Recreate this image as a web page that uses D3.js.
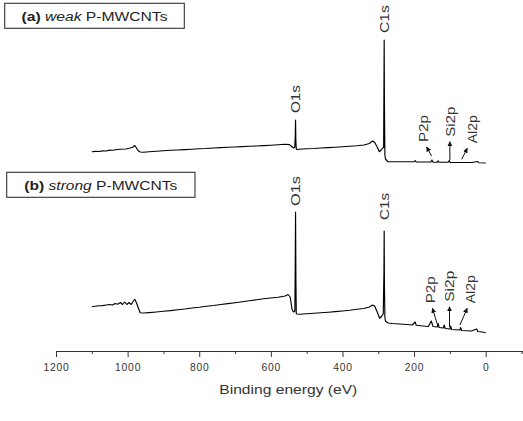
<!DOCTYPE html>
<html>
<head>
<meta charset="utf-8">
<script src="https://cdn.jsdelivr.net/npm/d3@7"></script>
<style>
	body { margin: 0; background: #fff; }
	svg { display: block; font-family: "Liberation Sans", Arial, sans-serif; }
</style>
</head>
<body>
<div id="chart"></div>
<script>
'use strict';

// weak P-MWCNTs survey (binding energy eV / intensity a.u.)
const weakEnergy = [1100, 1090, 1080, 1070, 1060, 1050, 1040, 1030, 1020, 1005, 995, 985, 980, 976, 971, 965, 955, 940, 920, 900, 880, 860, 840, 820, 800, 780, 760, 740, 720, 700, 680, 660, 640, 620, 600, 580, 560, 548, 542, 536, 533, 531.8, 531, 530.2, 529, 527, 520, 500, 480, 460, 440, 420, 400, 380, 360, 340, 325, 316, 310, 303, 297, 292, 288, 285, 284.2, 283.5, 282.8, 281.5, 280, 273, 250, 220, 200, 197, 194, 175, 153, 150, 147, 135, 133, 130, 105, 102, 99, 60, 40, 22, 19, 0];
const weakCounts = [10.6, 10.9, 10.8, 11.3, 11.2, 11.9, 11.8, 12.4, 12.6, 12.8, 13.4, 14.4, 15.6, 14.0, 11.6, 10.4, 10.2, 10.6, 11.0, 11.4, 11.8, 12.0, 12.3, 12.6, 13.0, 13.2, 13.6, 13.9, 14.2, 14.4, 14.7, 15.0, 15.2, 15.5, 15.8, 16.2, 16.6, 16.3, 14.8, 13.6, 14.4, 24, 36, 20, 13, 12.4, 12.6, 13.0, 13.2, 13.6, 13.9, 14.2, 14.6, 15.0, 15.4, 16.0, 17.2, 19.2, 18.0, 14.4, 10.6, 12.0, 13.6, 14, 60, 100, 50, 8, 4.8, 2.6, 2.6, 2.6, 2.6, 3.6, 2.4, 2.4, 2.4, 4.0, 2.2, 2.2, 3.4, 2.2, 2.2, 3.6, 2.0, 2.0, 2.0, 2.8, 1.8, 1.6];

// strong P-MWCNTs survey
const strongEnergy = [1100, 1090, 1080, 1070, 1060, 1050, 1042, 1035, 1028, 1020, 1014, 1008, 1002, 996, 990, 984, 980, 975, 970, 965, 955, 940, 920, 900, 880, 860, 840, 820, 800, 780, 760, 740, 720, 700, 680, 660, 640, 620, 600, 580, 560, 552, 546, 541, 537, 533, 532, 531, 530, 529, 527, 520, 500, 480, 460, 440, 420, 400, 380, 360, 340, 325, 316, 310, 303, 296, 290, 286, 284.2, 283.5, 282.8, 281.5, 280, 273, 260, 240, 220, 205, 197, 194, 175, 160, 152, 147, 135, 133, 130, 118, 116, 113, 100, 98, 95, 72, 70, 67, 40, 25, 22, 10, 0];
const strongCounts = [22.6, 23.0, 23.4, 23.5, 24.0, 24.4, 24.0, 25.2, 24.6, 26.0, 24.4, 26.4, 24.4, 26.0, 24.4, 27.2, 28.6, 25.6, 21.6, 17.8, 17.6, 17.9, 18.4, 19.0, 19.5, 20.2, 20.8, 21.6, 22.2, 23.0, 23.6, 24.4, 25.1, 25.8, 26.6, 27.4, 28.2, 29.0, 29.6, 30.2, 31.2, 32.4, 30.4, 20.8, 18.4, 19, 50, 98.4, 45, 17, 16.8, 16.6, 17.0, 17.4, 17.8, 18.2, 18.7, 19.2, 19.8, 20.6, 21.2, 22.4, 24.0, 23.2, 18.4, 13.4, 15.2, 17, 50, 83.2, 40, 14, 11.2, 9.6, 9.2, 8.8, 8.4, 8.0, 10.4, 7.8, 7.2, 6.8, 11.2, 6.8, 6.4, 9.2, 6.0, 5.6, 8.0, 5.2, 4.8, 7.2, 4.4, 4.0, 6.0, 3.6, 3.2, 4.8, 2.8, 2.4, 1.8];

const panelTitles  = [["(a)", "weak", "P-MWCNTs"], ["(b)", "strong", "P-MWCNTs"]];
const peakNames    = ["O1s", "C1s"];
const weakPeakE    = [531, 283.5];
const strongPeakE  = [531, 283.5];
const minorNames   = ["P2p", "Si2p", "Al2p"];
const weakArrowE   = [151, 100, 67];
const weakArrowI   = [7.2, 4.0, 4.6];
const strongArrowE = [133, 101, 72];
const strongArrowI = [6.6, 6.6, 8.0];
const majorTicks   = [1200, 1000, 800, 600, 400, 200, 0];
const minorTicks   = [1100, 900, 700, 500, 300, 100, -100];
const axisTitle    = "Binding energy (eV)";


const W = 523, H = 421;
const ink = "#333";

const x = d3.scaleLinear().domain([1200, -100]).range([56, 521.5]);

const panels = [
	{
		energy: weakEnergy, counts: weakCounts, title: panelTitles[0],
		y: d3.scaleLinear().domain([0, 100]).range([165, 40]),
		box: [4.7, 3.3, 179.6, 25], textLen: 146,
		peakE: weakPeakE, peakLabelLen: [28, 28], peakGap: [7, 7],
		arrowE: weakArrowE, arrowI: weakArrowI,
		arrowD: [[-5, -9], [0, -18.3], [5.6, -11]],
		labelDx: [-3.7, 0, 4.4], labelLen: [27, 30, 28]
	},
	{
		energy: strongEnergy, counts: strongCounts, title: panelTitles[1],
		y: d3.scaleLinear().domain([0, 100]).range([335, 210]),
		box: [6.7, 172.3, 188.3, 25], textLen: 153,
		peakE: strongPeakE, peakLabelLen: [30, 27], peakGap: [6, 11],
		arrowE: strongArrowE, arrowI: strongArrowI,
		arrowD: [[-5.6, -18.4], [0, -20], [7.3, -16.7]],
		labelDx: [-2.7, 0, 2.7], labelLen: [27, 31, 28]
	}
];

const svg = d3.select("#chart")
	.append("svg")
	.attr("width", W)
	.attr("height", H);

svg.append("rect").attr("width", W).attr("height", H).attr("fill", "#fff");

svg.append("defs")
	.append("marker")
	.attr("id", "head")
	.attr("viewBox", "0 0 10 10")
	.attr("refX", 9)
	.attr("refY", 5)
	.attr("markerWidth", 5)
	.attr("markerHeight", 5)
	.attr("markerUnits", "userSpaceOnUse")
	.attr("orient", "auto")
	.append("path")
	.attr("d", "M0,0 L10,5 L0,10 z")
	.attr("fill", "#111");

// rotated label: bottom end at (cx, bottom), reading upward
const vLabel = (g, text, cx, bottom, len) =>
{
	const fs = 13.5;
	g.append("text")
		.attr("transform", `translate(${cx + fs * 0.36},${bottom}) rotate(-90)`)
		.attr("font-size", fs)
		.attr("fill", ink)
		.attr("textLength", len)
		.attr("lengthAdjust", "spacingAndGlyphs")
		.text(text);
};

const drawPanel = p =>
{
	const g = svg.append("g");
	const pts = p.energy.map((e, i) => [e, p.counts[i]]);

	g.append("path")
		.datum(pts)
		.attr("fill", "none")
		.attr("stroke", "#000")
		.attr("stroke-width", 1.15)
		.attr("stroke-linejoin", "round")
		.attr("d", d3.line().x(d => x(d[0])).y(d => p.y(d[1])));

	// title box
	g.append("rect")
		.attr("x", p.box[0])
		.attr("y", p.box[1])
		.attr("width", p.box[2])
		.attr("height", p.box[3])
		.attr("fill", "#fff")
		.attr("stroke", ink)
		.attr("stroke-width", 1.1);

	const t = g.append("text")
		.attr("x", p.box[0] + (p.box[2] - p.textLen) / 2)
		.attr("y", p.box[1] + 17.5)
		.attr("font-size", 12)
		.attr("fill", "#222")
		.attr("textLength", p.textLen)
		.attr("lengthAdjust", "spacingAndGlyphs");
	t.append("tspan").attr("font-weight", "bold").text(p.title[0] + " ");
	t.append("tspan").attr("font-style", "italic").text(p.title[1] + " ");
	t.append("tspan").text(p.title[2]);

	// main peaks
	peakNames.forEach((name, i) =>
	{
		const top = p.y(d3.max(pts.filter(d => Math.abs(d[0] - p.peakE[i]) < 3), d => d[1]));
		vLabel(g, name, x(p.peakE[i]), top - p.peakGap[i], p.peakLabelLen[i]);
	});

	// minor elements with arrows
	minorNames.forEach((name, i) =>
	{
		const x0 = x(p.arrowE[i]);
		const y0 = p.y(p.arrowI[i]);
		const x1 = x0 + p.arrowD[i][0];
		const y1 = y0 + p.arrowD[i][1];
		g.append("line")
			.attr("x1", x0).attr("y1", y0)
			.attr("x2", x1).attr("y2", y1)
			.attr("stroke", "#111")
			.attr("stroke-width", 1)
			.attr("marker-end", "url(#head)");
		vLabel(g, name, x1 + p.labelDx[i], y1 - 5, p.labelLen[i]);
	});
};

panels.forEach(drawPanel);

// x axis
const axisY = 351;

svg.append("g")
	.attr("transform", `translate(0,${axisY})`)
	.call(d3.axisBottom(x).tickValues(minorTicks).tickSize(3).tickSizeOuter(0).tickFormat(""))
	.call(a => a.select(".domain").remove())
	.call(a => a.selectAll("line").attr("stroke", ink));

const ax = svg.append("g")
	.attr("transform", `translate(0,${axisY})`)
	.call(d3.axisBottom(x).tickValues(majorTicks).tickFormat(d3.format("d")).tickSize(6).tickSizeOuter(0).tickPadding(7));

ax.select(".domain").attr("stroke", ink).attr("d", `M${x(1200)},0.5H${W}`);
ax.selectAll("line").attr("stroke", ink);
ax.selectAll("text")
	.attr("font-family", "'Liberation Sans', Arial, sans-serif")
	.attr("font-size", 10.3)
	.attr("fill", ink)
	.attr("letter-spacing", 0.8);

svg.append("text")
	.attr("x", 288.3)
	.attr("y", 394)
	.attr("text-anchor", "middle")
	.attr("font-size", 13)
	.attr("fill", ink)
	.attr("textLength", 138)
	.attr("lengthAdjust", "spacingAndGlyphs")
	.text(axisTitle);
</script>
</body>
</html>
